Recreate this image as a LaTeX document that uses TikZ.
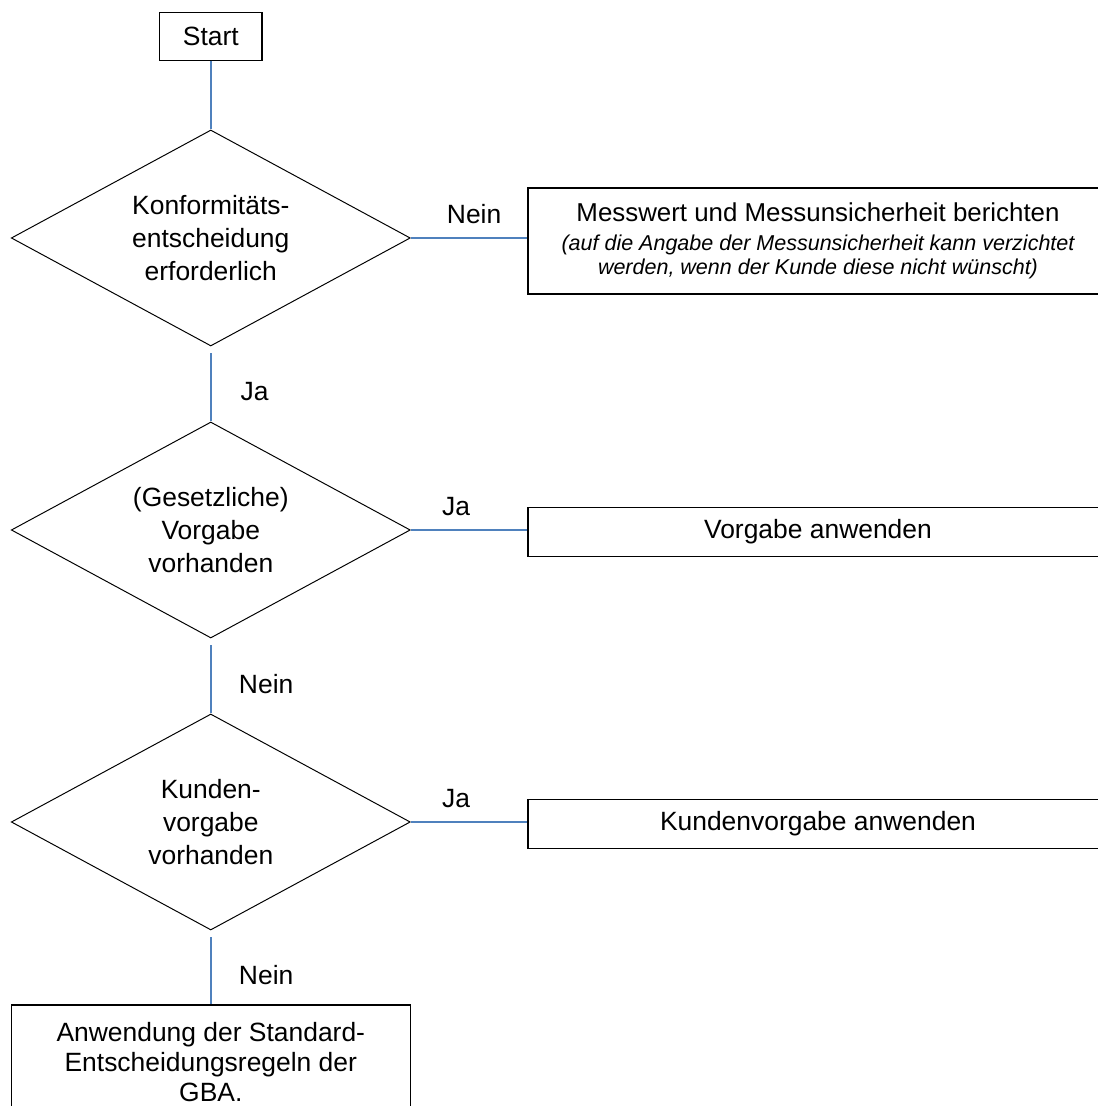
\documentclass[tikz,border=0pt]{standalone}
\usepackage{fontspec}
\setmainfont{Liberation Sans}
\usetikzlibrary{shapes}
\definecolor{conblue}{RGB}{79,129,189}
\newcommand{\hintfont}{\fontsize{15.3}{18}\selectfont\itshape}

\begin{document}
\begin{tikzpicture}[draw=black!100]
	\def \startht{26.74}
	\def \qoneht{21.70}
	\def \qtwoht{14.40}
	\def \qthreeht{7.10}
	\def \endht{1.10}
	\def \leftcol{5.27}
	\def \rightcol{20.45}

	\fontsize{18.8}{23.5}\selectfont
	\tikzstyle{s-node}=[rectangle,draw=black!100,line width=0.8pt,inner sep=0pt,minimum width=2.56cm,minimum height=1.19cm]
	\tikzstyle{q-node}=[diamond,draw=black!100,line width=0.7pt,inner sep=-0.8cm,minimum width=9.975cm,minimum height=5.4cm,align=center]
	\tikzstyle{b-node}=[rectangle,draw=black!100,line width=0.8pt,inner sep=0pt,minimum width=14.5cm,minimum height=1.225cm,align=center]
	\tikzstyle{annot}=[inner sep=0pt]
	\tikzstyle{conn}=[draw=conblue,line width=1.4pt]

	\useasboundingbox (0,0) rectangle (27.45,27.65);
	\clip (0,0) rectangle (27.45,27.65);

	% decisions
	\node[s-node]	(start)	at (\leftcol,\startht)	{Start};
	\node[q-node]	(q1)	at (\leftcol,\qoneht)	{Konformitäts-\\entscheidung\\erforderlich};
	\node[q-node]	(q2)	at (\leftcol,\qtwoht)	{(Gesetzliche)\\Vorgabe\\vorhanden};
	\node[q-node]	(q3)	at (\leftcol,\qthreeht)	{Kunden-\\vorgabe\\vorhanden};

	% results
	\node[b-node,minimum height=2.65cm]	(b1)	at (\rightcol,\qoneht-0.075)
		{{\fontsize{18.4}{23}\selectfont Messwert und Messunsicherheit berichten}\\[-3pt]
		{\hintfont (auf die Angabe der Messunsicherheit kann verzichtet}\\[-6pt]
		{\hintfont werden, wenn der Kunde diese nicht wünscht)}};
	\node[b-node]	(b2)	at (\rightcol,\qtwoht-0.04)	{Vorgabe anwenden};
	\node[b-node]	(b3)	at (\rightcol,\qthreeht-0.04)	{Kundenvorgabe anwenden};
	\node[b-node,minimum width=9.975cm,minimum height=2.85cm]	(b4)	at (\leftcol,\endht)
		{Anwendung der Standard-\\[-2pt]Entscheidungsregeln der\\[-2pt]GBA.};

	\path[conn]
		(start)	edge	(q1)
		(q1.east)	edge	node [annot,above,xshift=1.25mm,yshift=3.3mm]	{Nein}	(q1.east -| b1.west)
		(q1)	edge[shorten <=1.75mm]	node [annot,right,xshift=7.2mm,yshift=-1.9mm]	{Ja}	(q2)
		(q2.east)	edge	node [annot,above,xshift=-3.25mm,yshift=3.3mm]	{Ja}	(q2.east -| b2.west)
		(q2)	edge[shorten <=1.75mm]	node [annot,right,xshift=6.8mm,yshift=-1.9mm]	{Nein}	(q3)
		(q3.east)	edge	node [annot,above,xshift=-3.25mm,yshift=3.3mm]	{Ja}	(q3.east -| b3.west)
		(q3)	edge[shorten <=1.75mm]	node [annot,right,xshift=6.8mm,yshift=-1.9mm]	{Nein}	(b4);
\end{tikzpicture}
\end{document}
